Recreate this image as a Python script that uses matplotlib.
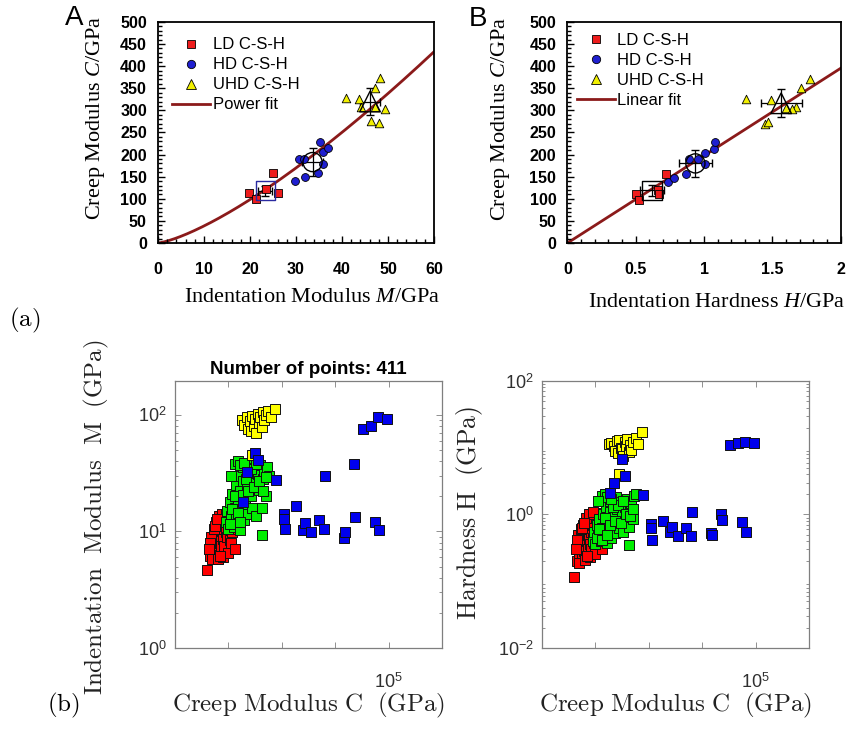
import numpy as np
import matplotlib.pyplot as plt
from matplotlib.ticker import MultipleLocator, NullLocator, LogLocator, NullFormatter
from matplotlib.lines import Line2D

plt.rcParams['mathtext.fontset'] = 'custom'
plt.rcParams['mathtext.rm'] = 'Liberation Sans'
plt.rcParams['mathtext.it'] = 'Liberation Serif:italic'
plt.rcParams['mathtext.bf'] = 'Liberation Sans:bold'

# ---------------- (a) A: C vs M ----------------
ld_M = [19.8, 21.3, 23.5, 26.1, 24.9]
ld_C_A = [114, 99, 121, 114, 158]
hd_M = [29.8, 32.0, 30.6, 31.7, 34.7, 35.3, 35.9, 37.0, 35.9]
hd_C_A = [140, 149, 191, 190, 158, 229, 205, 215, 179]
uhd_M = [40.8, 43.6, 44.1, 46.4, 48.0, 47.2, 49.4, 47.2, 48.3]
uhd_C_A = [327, 326, 308, 277, 271, 307, 304, 351, 373]
mean_M = [23.3, 33.6, 46.1]
mean_M_err = [1.5, 2.3, 2.2]
mean_C_A = [118, 183, 320]
mean_C_A_err = [12, 32, 30]
power_a, power_b = 1.72, 1.35

# ---------------- (a) B: C vs H ----------------
ld_H = [0.504, 0.524, 0.660, 0.670, 0.724]
ld_C_B = [111, 97, 120, 110, 157]
hd_H = [0.734, 0.783, 0.871, 0.893, 0.954, 1.005, 1.005, 1.071, 1.081]
hd_C_B = [138, 147, 156, 189, 189, 203, 178, 212, 228]
uhd_H = [1.306, 1.489, 1.450, 1.467, 1.600, 1.673, 1.643, 1.710, 1.775]
uhd_C_B = [326, 324, 269, 274, 305, 308, 302, 350, 371]
mean_H = [0.619, 0.937, 1.565]
mean_H_err = [0.09, 0.12, 0.15]
mean_C_B = [119, 180, 316]
mean_C_B_err = [12, 31, 32]
linear_slope = 197.5

# ---------------- (b) clustering, C in 1e3 GPa ----------------
red_C = [12.0, 13.0, 13.5, 14.0, 14.2, 14.8, 15.0, 15.3, 15.6, 16.0, 16.2, 16.5, 16.8,
         17.0, 17.2, 17.5, 17.8, 18.0, 18.3, 18.6, 18.8, 19.0, 19.3, 19.6, 20.0,
         20.3, 20.6, 21.0, 21.4, 21.8, 22.2,
         13.5, 14.5, 15.5, 16.5, 18.5, 19.5, 20.5, 21.5, 22.0, 13.0, 12.8, 17.5,
         15.0, 19.0, 21.0, 14.0, 16.0, 18.0, 20.0, 22.5, 15.8, 17.0]
red_M = [4.7, 6.2, 7.0, 6.0, 7.8, 8.5, 6.5, 9.4, 7.2, 10.2, 8.0, 6.3, 9.0,
         11.0, 7.5, 10.0, 12.0, 8.6, 11.2, 6.8, 13.0, 9.8, 12.4, 8.0, 10.8,
         13.5, 9.2, 12.0, 11.0, 13.8, 12.6,
         9.0, 10.5, 12.0, 13.5, 7.5, 9.0, 8.5, 9.8, 10.5, 8.0, 7.0, 14.0,
         11.2, 14.0, 8.0, 5.8, 5.8, 6.0, 6.5, 7.0, 12.8, 6.2]
red_H = [0.116, 0.20, 0.35, 0.22, 0.45, 0.36, 0.25, 0.55, 0.28, 0.50, 0.33, 0.24, 0.40,
         0.58, 0.30, 0.45, 0.68, 0.36, 0.55, 0.27, 0.80, 0.44, 0.62, 0.32, 0.50,
         0.90, 0.40, 0.70, 0.58, 1.05, 0.85,
         0.50, 0.60, 0.70, 0.90, 0.30, 0.38, 0.36, 0.45, 0.50, 0.42, 0.30, 1.00,
         0.62, 1.10, 0.33, 0.19, 0.21, 0.23, 0.26, 0.30, 0.75, 0.24]
green_C = [19.0, 19.5, 20.0, 20.5, 21.0, 21.5, 22.0, 22.3, 22.8, 23.0, 23.5, 24.0, 24.2,
           24.5, 25.0, 25.3, 25.6, 26.0, 26.3, 26.8, 27.0, 27.5, 27.8, 28.2, 28.6,
           29.0, 29.5, 30.0, 30.5, 31.0, 31.5, 32.0, 32.5, 33.0, 33.5, 34.0, 34.5,
           35.3, 32.5,
           20.5, 21.5, 22.5, 23.5, 24.5, 25.5, 26.5, 27.5, 28.5, 29.5, 30.5, 31.5,
           33.0, 34.0, 22.5, 23.5, 24.5, 21.0, 26.0]
green_M = [12.0, 15.0, 10.5, 18.0, 13.5, 21.0, 11.0, 16.0, 25.0, 13.0, 19.0, 30.0, 10.2,
           22.0, 15.5, 36.0, 27.0, 12.5, 18.5, 33.0, 24.0, 14.0, 38.0, 29.0, 20.0,
           16.0, 35.0, 26.0, 13.5, 31.0, 22.5, 37.0, 16.0, 28.0, 33.0, 20.0, 36.0,
           30.0, 9.4,
           11.5, 15.5, 20.0, 14.5, 12.0, 20.5, 28.0, 22.0, 34.0, 24.0, 37.5, 27.0,
           22.0, 29.0, 38.0, 40.0, 37.0, 30.0, 38.5]
green_H = [0.40, 0.55, 0.36, 0.70, 0.48, 0.85, 0.40, 0.62, 1.00, 0.46, 0.75, 1.30, 0.38,
           0.90, 0.58, 1.60, 1.10, 0.44, 0.68, 1.45, 0.95, 0.52, 1.80, 1.20, 0.80,
           0.62, 1.55, 1.05, 0.55, 1.30, 0.90, 1.70, 0.65, 1.15, 1.50, 0.85, 1.90,
           2.05, 0.35,
           0.45, 0.60, 0.42, 0.90, 0.50, 0.70, 1.30, 0.80, 1.40, 0.75, 1.60, 1.00,
           0.95, 1.20, 1.90, 2.00, 1.80, 1.60, 1.70]
yellow_C = [25.2, 26.0, 27.0, 27.5, 28.0, 28.5, 29.0, 29.5, 30.0, 30.5, 31.0, 31.5,
            32.0, 32.5, 33.0, 33.5, 34.0, 35.0, 36.0, 37.5, 29.0]
yellow_M = [90, 82, 95, 75, 88, 72, 98, 80, 92, 70, 102, 85,
            96, 78, 105, 90, 100, 108, 95, 112, 45]
yellow_H = [11.5, 11.8, 10.5, 9.0, 12.5, 8.2, 13.0, 10.0, 9.5, 7.6, 12.0, 10.8,
            13.5, 8.5, 11.0, 9.2, 12.2, 13.8, 11.5, 17.5, 4.1]
blue_C = [25.5, 27.1, 30.1, 31.0, 37.7, 40.7, 40.8, 41.1, 45.2, 48.0, 48.7, 50.8, 54.0,
          55.7, 56.2, 63.3, 63.8, 67.2, 67.3, 70.3, 73.5, 74.7, 75.9, 76.4, 79.3]
blue_M = [17.9, 32.4, 46.8, 40.9, 27.5, 14.2, 12.9, 10.4, 16.4, 10.2, 11.8, 9.9, 12.6,
          10.5, 29.8, 8.8, 9.9, 37.6, 13.3, 76.2, 80.4, 12.0, 94.8, 10.2, 92.4]
blue_H = [2.12, 2.92, 6.7, 3.77, 1.95, 0.71, 0.62, 0.42, 0.79, 0.54, 0.65, 0.47, 0.63,
          0.47, 1.10, 0.53, 0.50, 1.0, 0.84, 11.0, 11.7, 0.78, 12.0, 0.54, 11.7]
n_points = 411

bot_xticks = [2e4, 4e4, 6e4, 8e4]
bot_xticklabels = ['', '', '', r'$10^{5}$']

RED, BLUE, YEL = '#ee1c1c', '#1f1fd0', '#f2f000'
FIT = '#8b1a1a'

fig = plt.figure(figsize=(8.48, 7.29), dpi=100)
axA = fig.add_axes([0.1863, 0.6667, 0.3255, 0.3032])
axB = fig.add_axes([0.6692, 0.6667, 0.3220, 0.3032])
axL = fig.add_axes([0.2064, 0.1111, 0.3149, 0.3663])
axR = fig.add_axes([0.6392, 0.1111, 0.3149, 0.3663])


def top_style(ax, xmax, xmaj, xmin):
    ax.set_xlim(0, xmax)
    ax.set_ylim(0, 500)
    ax.xaxis.set_major_locator(MultipleLocator(xmaj))
    ax.xaxis.set_minor_locator(MultipleLocator(xmin))
    ax.xaxis.set_major_formatter('{x:g}')
    ax.yaxis.set_major_locator(MultipleLocator(50))
    ax.yaxis.set_minor_locator(MultipleLocator(10))
    ax.tick_params(which='both', direction='in', top=False, right=False, width=1)
    ax.tick_params(which='major', length=5)
    ax.tick_params(which='minor', length=3)
    ax.tick_params(axis='x', pad=14)
    ax.tick_params(axis='y', pad=8)
    for lab in ax.get_xticklabels() + ax.get_yticklabels():
        lab.set_fontfamily('Liberation Sans')
        lab.set_fontweight('bold')
        lab.set_fontsize(11.5)
    for s in ax.spines.values():
        s.set_linewidth(1.3)


def draw_top(ax, lx, ly, hx, hy, ux, uy, mx, mxe, my, mye, fitx, fity, fitlab, sqcol):
    ax.plot(fitx, fity, color=FIT, lw=2, zorder=1)
    ax.errorbar(mx, my, xerr=mxe, yerr=mye, fmt='none', ecolor='black',
                elinewidth=0.9, capsize=3, zorder=2)
    ax.scatter(lx, ly, marker='s', s=30, c=RED, edgecolors='black', linewidths=0.6, zorder=3)
    ax.scatter(hx, hy, marker='o', s=32, c=BLUE, edgecolors='black', linewidths=0.6, zorder=3)
    ax.scatter(ux, uy, marker='^', s=38, c=YEL, edgecolors='black', linewidths=0.6, zorder=3)
    ax.scatter(mx[0], my[0], marker='s', s=190, facecolors='none', edgecolors=sqcol,
               linewidths=1.0, zorder=4)
    ax.scatter(mx[1], my[1], marker='o', s=190, facecolors='none', edgecolors='black',
               linewidths=1.0, zorder=4)
    ax.scatter(mx[2], my[2], marker='^', s=220, facecolors='none', edgecolors='black',
               linewidths=1.0, zorder=4)
    handles = [
        Line2D([], [], ls='none', marker='s', ms=6, mfc=RED, mec='black', mew=0.6),
        Line2D([], [], ls='none', marker='o', ms=6, mfc=BLUE, mec='black', mew=0.6),
        Line2D([], [], ls='none', marker='^', ms=6.5, mfc=YEL, mec='black', mew=0.6),
        Line2D([], [], color=FIT, lw=2),
    ]
    return handles, ['LD C-S-H', 'HD C-S-H', 'UHD C-S-H', fitlab]


# ---- A
fitM = np.linspace(0, 60, 200)
hA, lA = draw_top(axA, ld_M, ld_C_A, hd_M, hd_C_A, uhd_M, uhd_C_A,
                  mean_M, mean_M_err, mean_C_A, mean_C_A_err,
                  fitM, power_a * fitM ** power_b, 'Power fit', '#2a2aa0')
top_style(axA, 60, 10, 2)
axA.legend(hA, lA, loc='upper left', bbox_to_anchor=(0.05, 0.93), frameon=False,
           borderpad=0, borderaxespad=0, handlelength=2.3, handletextpad=0.2,
           labelspacing=0.3, prop={'family': 'Liberation Sans', 'size': 12})
axA.set_xlabel('Indentation Modulus $M$/GPa', family='Liberation Serif', fontsize=16)
axA.set_ylabel('Creep Modulus $C$/GPa', family='Liberation Serif', fontsize=16)
axA.xaxis.set_label_coords(0.558, -0.205)
axA.yaxis.set_label_coords(-0.185, 0.566)

# ---- B
fitH = np.linspace(0, 2, 50)
hB, lB = draw_top(axB, ld_H, ld_C_B, hd_H, hd_C_B, uhd_H, uhd_C_B,
                  mean_H, mean_H_err, mean_C_B, mean_C_B_err,
                  fitH, linear_slope * fitH, 'Linear fit', 'black')
top_style(axB, 2, 0.5, 0.1)
axB.legend(hB, lB, loc='upper left', bbox_to_anchor=(0.035, 0.95), frameon=False,
           borderpad=0, borderaxespad=0, handlelength=2.3, handletextpad=0.1,
           labelspacing=0.3, prop={'family': 'Liberation Sans', 'size': 12})
axB.set_xlabel('Indentation Hardness $H$/GPa', family='Liberation Serif', fontsize=16)
axB.set_ylabel('Creep Modulus $C$/GPa', family='Liberation Serif', fontsize=16)
axB.xaxis.set_label_coords(0.548, -0.225)
axB.yaxis.set_label_coords(-0.203, 0.56)

fig.text(0.087, 0.975, 'A', family='Liberation Sans', fontsize=20, ha='center', va='center')
fig.text(0.564, 0.974, 'B', family='Liberation Sans', fontsize=20, ha='center', va='center')

# ---- bottom panels
GREY = '#7f7f7f'
groups = [(red_C, red_M, red_H, '#ff0000'),
          (green_C, green_M, green_H, '#00ee00'),
          (yellow_C, yellow_M, yellow_H, '#ffff00'),
          (blue_C, blue_M, blue_H, '#0000ee')]
for ax, yi, ylim, yticks, ylabs in [
        (axL, 1, (1, 195), [1, 10, 100], [r'$10^{0}$', r'$10^{1}$', r'$10^{2}$']),
        (axR, 2, (1e-2, 1e2), [1e-2, 1, 1e2], [r'$10^{-2}$', r'$10^{0}$', r'$10^{2}$'])]:
    for g in groups:
        ax.scatter(np.array(g[0]) * 1e3, g[yi], marker='s', s=55, c=g[3],
                   edgecolors='#111111', linewidths=0.7)
    ax.set_yscale('log')
    ax.set_xlim(0, 1e5)
    ax.set_ylim(*ylim)
    ax.set_xticks(bot_xticks, labels=bot_xticklabels)
    ax.xaxis.set_minor_locator(NullLocator())
    ax.set_yticks(yticks, labels=ylabs)
    ax.yaxis.set_minor_locator(LogLocator(base=10, subs=np.arange(2, 10)))
    ax.yaxis.set_minor_formatter(NullFormatter())
    ax.tick_params(which='both', direction='in', top=True, right=True,
                   color=GREY, width=0.6, labelcolor='#303030', labelsize=13)
    ax.tick_params(which='major', length=4)
    ax.tick_params(which='minor', length=2)
    ax.tick_params(axis='x', pad=18)
    ax.tick_params(axis='y', pad=6)
    for s in ax.spines.values():
        s.set_color(GREY)
        s.set_linewidth(0.9)
    ax.set_xlabel(r'$\mathrm{Creep\ Modulus\ C\ \ (GPa)}$', math_fontfamily='cm',
                  fontsize=18, color='#222222')
    ax.xaxis.set_label_coords(0.5, -0.16)

axL.set_ylabel(r'$\mathrm{Indentation\ \ Modulus\ \ M\ \ (GPa)}$', math_fontfamily='cm',
               fontsize=18, color='#222222')
axL.yaxis.set_label_coords(-0.24, 0.49)
axR.set_ylabel(r'$\mathrm{Hardness\ H\ \ (GPa)}$', math_fontfamily='cm',
               fontsize=18.5, color='#222222')
axR.yaxis.set_label_coords(-0.215, 0.506)
axL.set_title(f'Number of points: {n_points}', family='Liberation Sans',
              fontweight='bold', fontsize=13.5, pad=5)

fig.text(0.0295, 0.561, r'$\mathrm{(a)}$', math_fontfamily='cm', fontsize=18,
         ha='center', va='center')
fig.text(0.075, 0.032, r'$\mathrm{(b)}$', math_fontfamily='cm', fontsize=18,
         ha='center', va='center')

fig.savefig('out.png', dpi=100)
